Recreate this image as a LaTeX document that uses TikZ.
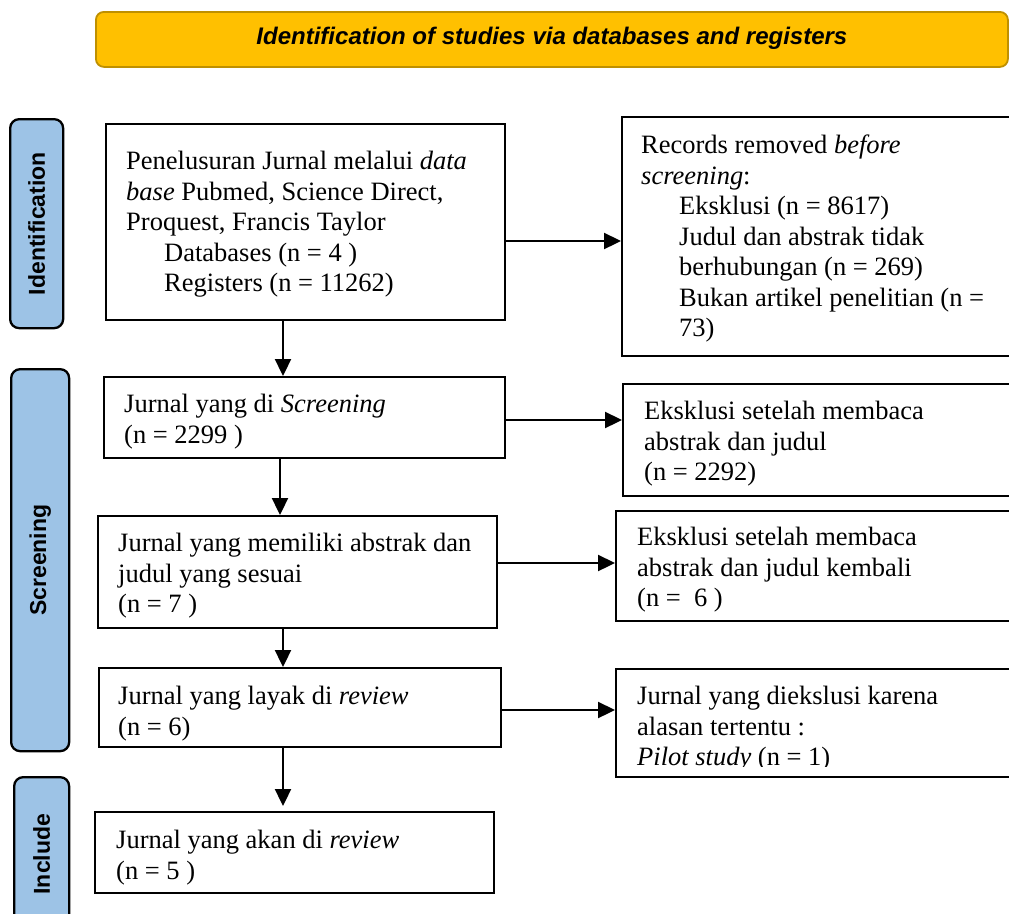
\documentclass[tikz,border=0pt]{standalone}
\usepackage{fontspec}
\setmainfont{Liberation Serif}
\newfontfamily\arialfont{Liberation Sans}
\usetikzlibrary{arrows.meta}
\definecolor{hdrfill}{HTML}{FFC000}
\definecolor{hdrline}{HTML}{BF9000}
\definecolor{sidefill}{HTML}{9DC3E6}
\begin{document}
\begin{tikzpicture}[x=1pt,y=-1pt,
  box/.style={draw=black, line width=2.3pt, rectangle, inner sep=0pt, anchor=north west},
  txt/.style={anchor=north west, inner sep=0pt, align=left, font=\fontsize{26.5}{30.5}\selectfont},
  side/.style={draw=black, line width=2.3pt, fill=sidefill, rounded corners=9pt, rectangle, inner sep=0pt, anchor=north west},
  sidetxt/.style={rotate=90, inner sep=0pt, font=\arialfont\bfseries\fontsize{23}{26}\selectfont},
  hdr/.style={draw=hdrline, line width=1.8pt, fill=hdrfill, rounded corners=8pt, rectangle, inner sep=0pt, anchor=north west},
  hdrtxt/.style={inner sep=0pt, font=\arialfont\bfseries\itshape\fontsize{24}{27}\selectfont},
  arr/.style={line width=2.3pt, -{Triangle[length=17pt,width=16pt]}}]
\useasboundingbox (0,0) rectangle (1009,913);

% header
\node[hdr, minimum width=912pt, minimum height=55pt] (H) at (95,11) {};
\node[hdrtxt] (Ht) at ([yshift=1pt]H.center) {Identification of studies via databases and registers};

% side labels
\node[side, minimum width=53pt, minimum height=209pt] (Sid) at (9,118) {};
\node[sidetxt] (Sidt) at (Sid.center) {Identification};
\node[side, minimum width=58pt, minimum height=382pt] (Ssc) at (10,368) {};
\node[sidetxt] (Ssct) at (Ssc.center) {Screening};
\node[side, minimum width=55pt, minimum height=150pt] (Sin) at (13,776) {};
\node[sidetxt] (Sint) at ([yshift=-2pt]Sin.center) {Include};

% main column boxes
\node[box, minimum width=399pt, minimum height=196pt] (B1) at (105,123) {};
\node[txt] (B1t) at (126,151) {Penelusuran Jurnal melalui \textit{data}\\\textit{base} Pubmed, Science Direct,\\Proquest, Francis Taylor\\\hspace*{38pt}Databases (n = 4 )\\\hspace*{38pt}Registers (n = 11262)};

\node[box, minimum width=401pt, minimum height=81pt] (B2) at (103,376) {};
\node[txt] (B2t) at (124,394) {Jurnal yang di \textit{Screening}\\(n = 2299 )};

\node[box, minimum width=399pt, minimum height=112pt] (B3) at (97,515) {};
\node[txt] (B3t) at (118,533) {Jurnal yang memiliki abstrak dan\\judul yang sesuai\\(n = 7 )};

\node[box, minimum width=402pt, minimum height=79pt] (B4) at (98,667) {};
\node[txt] (B4t) at (118,686) {Jurnal yang layak di \textit{review}\\(n = 6)};

\node[box, minimum width=399pt, minimum height=81pt] (B5) at (94,811) {};
\node[txt] (B5t) at (116,830) {Jurnal yang akan di \textit{review}\\(n = 5 )};

% right column boxes
\node[box, minimum width=404pt, minimum height=239pt] (R1) at (621,116) {};
\node[txt] (R1t) at (641,135) {Records removed \textit{before}\\\textit{screening}:\\\hspace*{38pt}Eksklusi (n = 8617)\\\hspace*{38pt}Judul dan abstrak tidak\\\hspace*{38pt}berhubungan (n = 269)\\\hspace*{38pt}Bukan artikel penelitian (n =\\\hspace*{38pt}73)};

\node[box, minimum width=403pt, minimum height=112pt] (R2) at (622,383) {};
\node[txt] (R2t) at (644,401) {Eksklusi setelah membaca\\abstrak dan judul\\(n = 2292)};

\node[box, minimum width=410pt, minimum height=110pt] (R3) at (615,510) {};
\node[txt] (R3t) at (637,527) {Eksklusi setelah membaca\\abstrak dan judul kembali\\(n =\ \ 6 )};

\node[box, minimum width=410pt, minimum height=108pt] (R4) at (615,668) {};
\begin{scope}
\clip (600,660) rectangle (1009,766);
\node[txt] (R4t) at (637,686) {Jurnal yang diekslusi karena\\alasan tertentu :\\\textit{Pilot study} (n = 1)};
\end{scope}

% guide coordinates
\coordinate (ya) at (0,241);
\coordinate (yb) at (0,420);
\coordinate (yc) at (0,563);
\coordinate (yd) at (0,710);
\coordinate (xa) at (283,0);
\coordinate (xb) at (280,0);

% connectors
\draw[arr] (B1.east |- ya) -- (R1.west |- ya);
\draw[arr] (B2.east |- yb) -- (R2.west |- yb);
\draw[arr] (B3.east |- yc) -- (R3.west |- yc);
\draw[arr] (B4.east |- yd) -- (R4.west |- yd);
\draw[arr] (B1.south -| xa) -- (B2.north -| xa);
\draw[arr] (B2.south -| xb) -- (B3.north -| xb);
\draw[arr] (B3.south -| xa) -- (B4.north -| xa);
\draw[arr, shorten >=5pt] (B4.south -| xa) -- (B5.north -| xa);
\end{tikzpicture}
\end{document}
